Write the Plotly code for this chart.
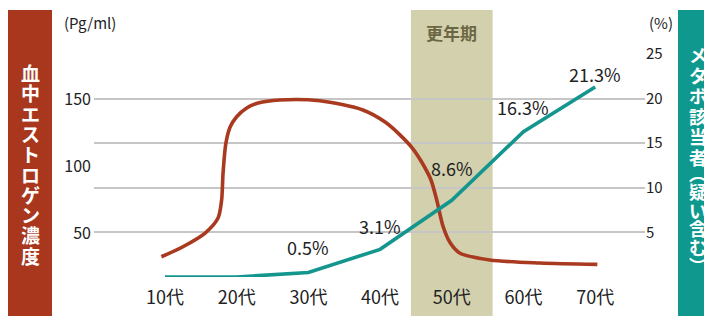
import plotly.graph_objects as go

# ---------------- data ----------------
age_labels = ["10代", "20代", "30代", "40代", "50代", "60代", "70代"]
metabo_pct = [0.0, 0.0, 0.5, 3.1, 8.6, 16.3, 21.3]
metabo_text = ["", "", "0.5%", "3.1%", "8.6%", "16.3%", "21.3%"]

# estrogen curve (position along the age axis, in category units; value in pg/ml)
estrogen_pos = [-0.05, 0.25, 0.56, 0.74, 0.79, 0.81, 0.85, 0.91, 1.0, 1.14, 1.30,
                1.60, 2.16, 2.76, 3.07, 3.28, 3.45, 3.58, 3.71, 3.79, 3.88, 3.98,
                4.11, 4.53, 5.23, 6.03]
estrogen_val = [32.3, 39.8, 50.0, 61.2, 74.6, 94.8, 117.2, 129.3, 136.8, 143.3, 147.0,
                149.3, 148.7, 141.8, 132.8, 123.1, 113.4, 103.0, 89.6, 74.6, 54.7, 42.5,
                35.1, 29.9, 27.6, 26.6]

left_ticks = [50, 100, 150]
right_ticks = [0, 5, 10, 15, 20, 25]
right_ticktext = ["", "5", "10", "15", "20", "25"]

menopause_span = [3.43, 4.57]
menopause_label = "更年期"
left_title = ["血", "中", "エ", "ス", "ト", "ロ", "ゲ", "ン", "濃", "度"]
right_title_main = ["メ", "タ", "ボ", "該", "当", "者"]
right_title_note = ["︵", "疑", "い", "含", "む", "︶"]
left_unit = "(Pg/ml)"
right_unit = "(%)"

# ---------------- layout helpers ----------------
# page body has an 8px margin, so the figure sits at (8, 8) in the window
OFF = 8
W, H = 704, 308
L, R, T, B = 86, 67, 46, 39
PW, PH = W - L - R, H - T - B
FONT = "Noto Sans CJK JP, Noto Sans, sans-serif"
RED = "#A9391F"
TEAL = "#14968E"


def px_x(x):  # window pixel -> paper
    return (x - OFF - L) / PW


def px_y(y):
    return (H - B - (y - OFF)) / PH


fig = go.Figure()

fig.add_trace(go.Scatter(
    x=estrogen_pos, y=estrogen_val, mode="lines",
    line=dict(color=RED, width=3.6, shape="spline", smoothing=0.8),
    yaxis="y", cliponaxis=False, hoverinfo="skip", showlegend=False))

fig.add_trace(go.Scatter(
    x=list(range(len(age_labels))), y=metabo_pct, mode="lines",
    line=dict(color=TEAL, width=3.6),
    yaxis="y2", cliponaxis=False, hoverinfo="skip", showlegend=False))

label_shift = [0, 0, 26, 23, 32, 25, 13]
annotations = []
for i, t in enumerate(metabo_text):
    if t:
        annotations.append(dict(x=i, y=metabo_pct[i], xref="x", yref="y2", text=t,
                                showarrow=False, yshift=label_shift[i],
                                xanchor="center", yanchor="middle",
                                font=dict(family=FONT, size=18, color="#222222")))

shapes = [
    dict(type="rect", xref="x", yref="paper", x0=menopause_span[0], x1=menopause_span[1],
         y0=px_y(320), y1=px_y(10), fillcolor="#D3D0AE", line=dict(width=0), layer="below"),
    dict(type="rect", xref="paper", yref="paper", x0=px_x(8), x1=px_x(52),
         y0=px_y(320), y1=px_y(10), fillcolor="#A8371E", line=dict(width=0), layer="below"),
    dict(type="rect", xref="paper", yref="paper", x0=px_x(678), x1=px_x(716),
         y0=px_y(320), y1=px_y(10), fillcolor="#0F998E", line=dict(width=0), layer="below"),
]

annotations.append(dict(x=sum(menopause_span) / 2, y=px_y(33), xref="x", yref="paper",
                        xanchor="center", yanchor="middle",
                        text="<b>" + menopause_label + "</b>", showarrow=False,
                        font=dict(family=FONT, size=17, color="#6B6744")))
annotations.append(dict(x=px_x(62), y=px_y(22), xref="paper", yref="paper",
                        xanchor="left", yanchor="middle",
                        text=left_unit, showarrow=False,
                        font=dict(family=FONT, size=15, color="#222222")))
annotations.append(dict(x=px_x(647), y=px_y(22), xref="paper", yref="paper",
                        xanchor="left", yanchor="middle",
                        text=right_unit, showarrow=False,
                        font=dict(family=FONT, size=15, color="#222222")))


def vertical(chars, size):
    return "<br>".join('<span style="font-size:%dpx"><b>%s</b></span>' % (size, c) for c in chars)


# vertical titles: line pitch = 1.3 x base font size; glyphs sized via span style
annotations.append(dict(x=px_x(30), y=px_y(163.5), xref="paper", yref="paper",
                        xanchor="center", yanchor="middle",
                        text=vertical(left_title, 19), showarrow=False,
                        font=dict(family=FONT, size=20.3 / 1.3, color="white")))
annotations.append(dict(x=px_x(698), y=px_y(105.5), xref="paper", yref="paper",
                        xanchor="center", yanchor="middle",
                        text=vertical(right_title_main, 18), showarrow=False,
                        font=dict(family=FONT, size=20.6 / 1.3, color="white")))
annotations.append(dict(x=px_x(698), y=px_y(219), xref="paper", yref="paper",
                        xanchor="center", yanchor="middle",
                        text=vertical(right_title_note, 18), showarrow=False,
                        font=dict(family=FONT, size=18.4 / 1.3, color="white")))

fig.update_layout(
    width=W, height=H,
    margin=dict(l=L, r=R, t=T, b=B, autoexpand=False),
    paper_bgcolor="white", plot_bgcolor="white",
    font=dict(family=FONT, color="#222222"),
    xaxis=dict(range=[-0.99, 6.695], tickvals=list(range(len(age_labels))), ticktext=age_labels,
               showgrid=False, zeroline=False, showline=False, automargin=False,
               ticks="", ticklabelstandoff=8,
               tickfont=dict(size=18, color="#222222")),
    yaxis=dict(range=[17.2, 183.6], tickvals=left_ticks, showgrid=False, zeroline=False,
               showline=False, ticks="", ticklabelstandoff=2, automargin=False,
               tickfont=dict(size=16, color="#222222")),
    yaxis2=dict(range=[0, 25], tickvals=right_ticks, ticktext=right_ticktext,
                overlaying="y", side="right", showgrid=True, gridcolor="#C6C6C6",
                gridwidth=1.6, zeroline=False, showline=False, ticks="", automargin=False,
                tickfont=dict(size=15, color="#222222")),
    shapes=shapes, annotations=annotations,
)

fig.write_html("out.html")
